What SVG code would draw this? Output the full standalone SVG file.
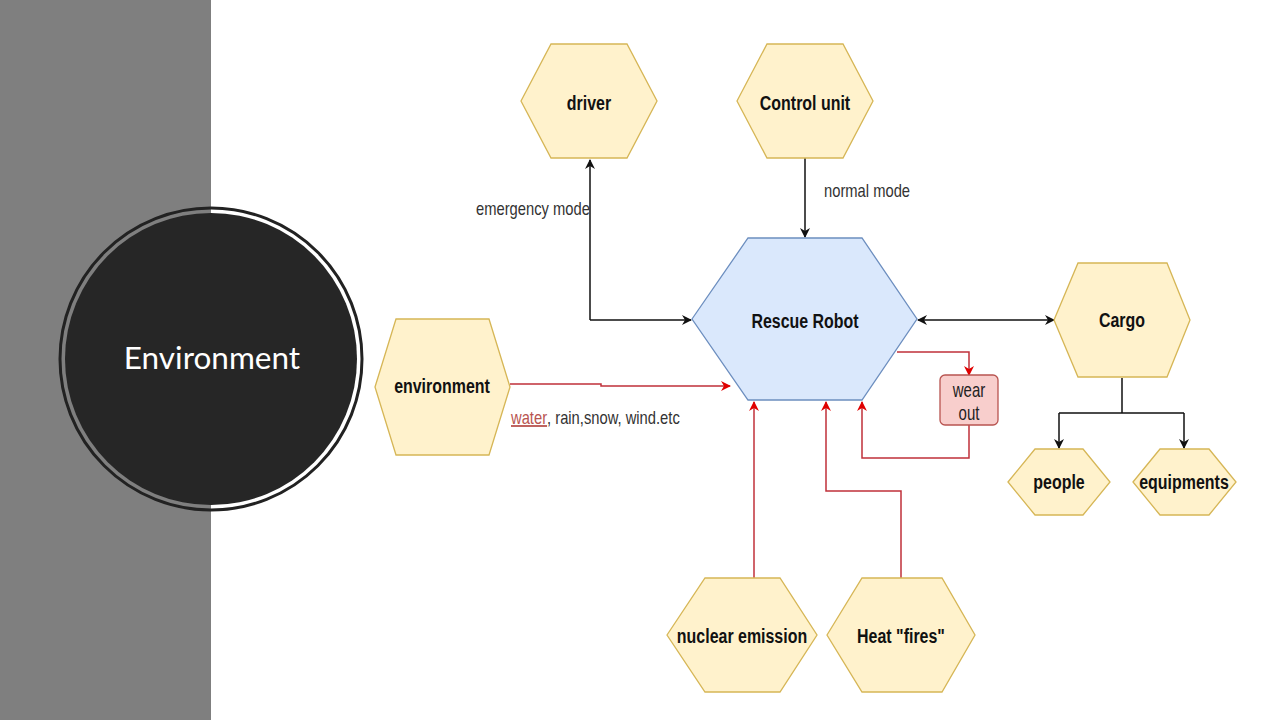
<svg xmlns="http://www.w3.org/2000/svg" width="1280" height="720" viewBox="0 0 1280 720">
<defs>
<style>
.hex{fill:#fff2cc;stroke:#d6b656;stroke-width:1.3}
.robot{fill:#dae8fc;stroke:#6c8ebf;stroke-width:1.3}
.lbl{font-family:"Liberation Sans",Arial,sans-serif;font-weight:bold;font-size:21px;fill:#111;text-anchor:middle}
.edge{font-family:"Liberation Sans",Arial,sans-serif;font-size:18px;fill:#333}
.wo{font-family:"Liberation Sans",Arial,sans-serif;font-size:20px;fill:#222;text-anchor:middle}
.blk{fill:none;stroke:#111;stroke-width:1.5}
.red{fill:none;stroke:#c0303a;stroke-width:1.5}
</style>
<marker id="ab" viewBox="0 0 10 10" refX="9" refY="5" markerWidth="10" markerHeight="10" markerUnits="userSpaceOnUse" orient="auto-start-reverse"><path d="M0,0 L10,5 L0,10 L3,5 z" fill="#111"/></marker>
<marker id="ar" viewBox="0 0 10 10" refX="9" refY="5" markerWidth="10" markerHeight="10" markerUnits="userSpaceOnUse" orient="auto-start-reverse"><path d="M0,0 L10,5 L0,10 L3,5 z" fill="#e00000"/></marker>
</defs>
<rect x="0" y="0" width="1280" height="720" fill="#ffffff"/>
<rect x="0" y="0" width="211" height="720" fill="#7f7f7f"/>
<g id="title">
<circle cx="211" cy="359" r="151" fill="none" stroke="#222" stroke-width="3"/>
<circle cx="211" cy="359" r="146" fill="#262626"/>
<text x="212" y="369" font-family="Lato,'Open Sans',sans-serif" font-size="31.5" fill="#ffffff" text-anchor="middle">Environment</text>
</g>
<g id="connectors">
<path class="blk" d="M590,320 L590,160" marker-end="url(#ab)"/>
<path class="blk" d="M590,320 L691,320" marker-end="url(#ab)"/>
<path class="blk" d="M805,158 L805,237" marker-end="url(#ab)"/>
<path class="blk" d="M918,320 L1054,320" marker-start="url(#ab)" marker-end="url(#ab)"/>
<path class="blk" d="M1122,378 L1122,413 M1059,413 L1184,413"/>
<path class="blk" d="M1059,413 L1059,448" marker-end="url(#ab)"/>
<path class="blk" d="M1184,413 L1184,448" marker-end="url(#ab)"/>
<path class="red" d="M510,384 L601,384 L601,386 L730,386" marker-end="url(#ar)"/>
<path class="red" d="M897,352 L969,352 L969,375" marker-end="url(#ar)"/>
<path class="red" d="M969,425 L969,458 L862,458 L862,402" marker-end="url(#ar)"/>
<path class="red" d="M754,578 L754,402" marker-end="url(#ar)"/>
<path class="red" d="M901,578 L901,491 L826,491 L826,402" marker-end="url(#ar)"/>
<text class="edge" transform="translate(476,215) scale(0.82,1)">emergency mode</text>
<text class="edge" transform="translate(824,197) scale(0.82,1)">normal mode</text>
<text class="edge" transform="translate(511,424) scale(0.82,1)"><tspan fill="#b85450" text-decoration="underline">water</tspan>, rain,snow, wind.etc</text>
</g>
<g id="driver">
<polygon class="hex" points="521,101 551,44 627,44 657,101 627,158 551,158"/>
<text class="lbl" transform="translate(589,110) scale(0.76,1)">driver</text>
</g>
<g id="control-unit">
<polygon class="hex" points="737,101 767,44 843,44 873,101 843,158 767,158"/>
<text class="lbl" transform="translate(805,110) scale(0.76,1)">Control unit</text>
</g>
<g id="rescue-robot">
<polygon class="robot" points="692,319 748,238 862,238 917,319 862,400 748,400"/>
<text class="lbl" transform="translate(805,328) scale(0.76,1)">Rescue Robot</text>
</g>
<g id="cargo">
<polygon class="hex" points="1054,320 1078,263 1167,263 1190,320 1167,377 1078,377"/>
<text class="lbl" transform="translate(1122,327) scale(0.76,1)">Cargo</text>
</g>
<g id="environment">
<polygon class="hex" points="375,387 396,319 489,319 510,387 489,455 396,455"/>
<text class="lbl" transform="translate(442,393) scale(0.76,1)">environment</text>
</g>
<g id="wear-out">
<rect x="940" y="375" width="58" height="50" rx="5" fill="#f8cecc" stroke="#b85450" stroke-width="1.3"/>
<text class="wo" transform="translate(969,397) scale(0.75,1)">wear</text>
<text class="wo" transform="translate(969,420) scale(0.75,1)">out</text>
</g>
<g id="people">
<polygon class="hex" points="1008,482 1035,449 1083,449 1110,482 1083,515 1035,515"/>
<text class="lbl" transform="translate(1059,489) scale(0.76,1)">people</text>
</g>
<g id="equipments">
<polygon class="hex" points="1133,482 1160,449 1209,449 1236,482 1209,515 1160,515"/>
<text class="lbl" transform="translate(1184,489) scale(0.76,1)">equipments</text>
</g>
<g id="nuclear-emission">
<polygon class="hex" points="667,635 705,578 780,578 817,635 780,692 705,692"/>
<text class="lbl" transform="translate(742,643) scale(0.76,1)">nuclear emission</text>
</g>
<g id="heat-fires">
<polygon class="hex" points="827,635 862,578 942,578 975,635 942,692 862,692"/>
<text class="lbl" transform="translate(901,643) scale(0.76,1)">Heat "fires"</text>
</g>
</svg>
